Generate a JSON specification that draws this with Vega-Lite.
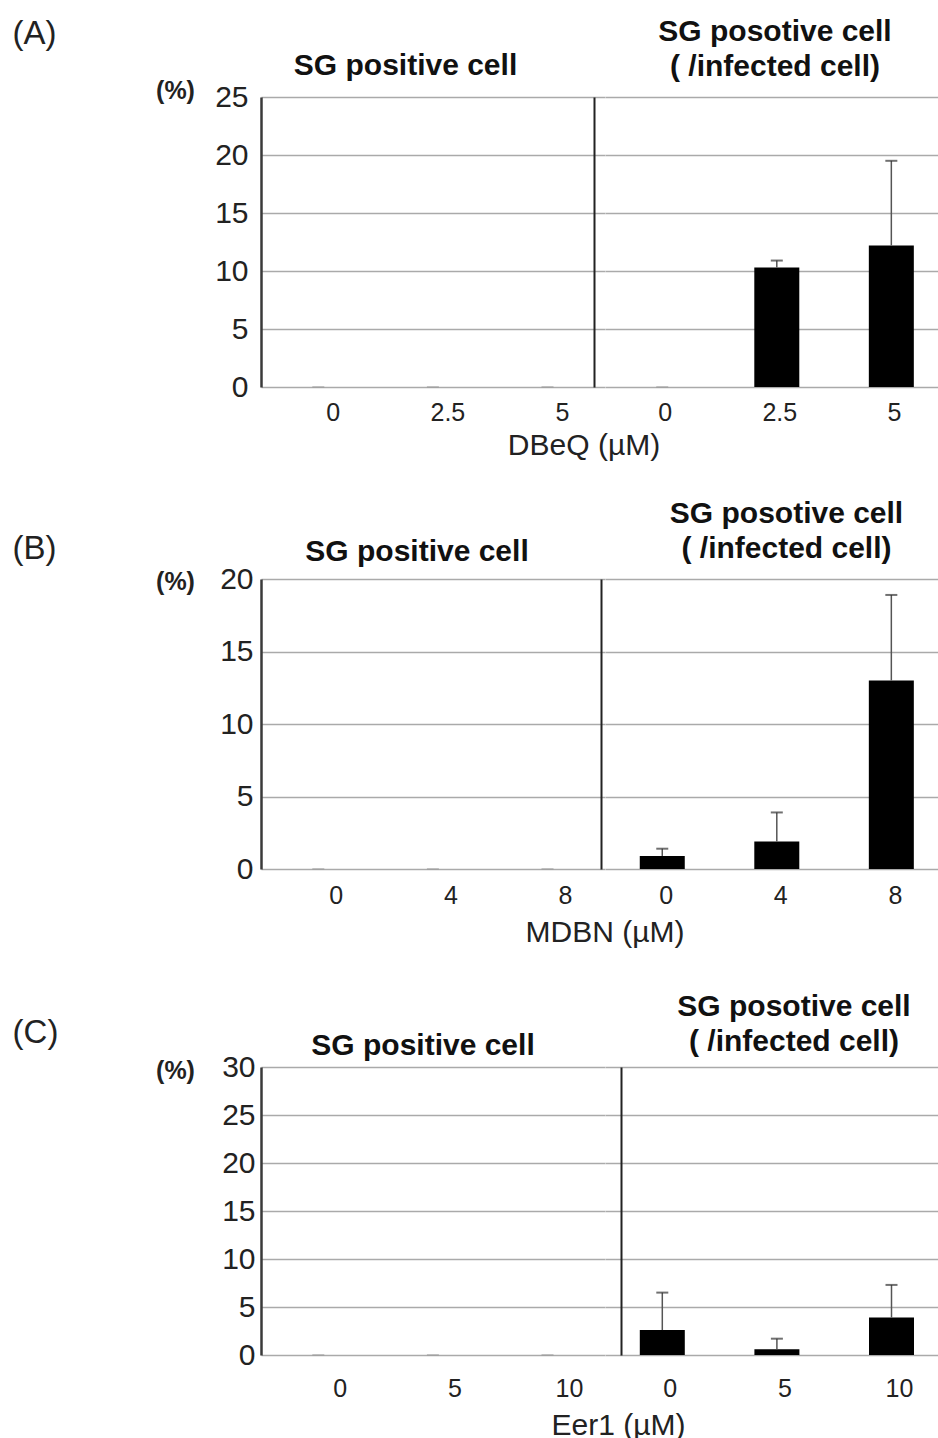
{
  "$schema": "https://vega.github.io/schema/vega-lite/v6.json",
  "padding": {"left": 12, "top": 17, "right": 0, "bottom": 0},
  "bounds": "flush",
  "spacing": 482,
  "config": {
    "font": "Liberation Sans",
    "view": {"stroke": null},
    "title": {"fontSize": 30, "fontWeight": "bold", "color": "#111", "anchor": "middle", "frame": "group", "baseline": "bottom", "lineHeight": 35}
  },
  "datasets": {
    "A": [
      {"group": "left", "dose": "0", "mean": 0, "hi": 0},
      {"group": "left", "dose": "2.5", "mean": 0, "hi": 0},
      {"group": "left", "dose": "5", "mean": 0, "hi": 0},
      {"group": "right", "dose": "0", "mean": 0, "hi": 0},
      {"group": "right", "dose": "2.5", "mean": 10.3, "hi": 10.9},
      {"group": "right", "dose": "5", "mean": 12.2, "hi": 19.5}
    ],
    "B": [
      {"group": "left", "dose": "0", "mean": 0, "hi": 0},
      {"group": "left", "dose": "4", "mean": 0, "hi": 0},
      {"group": "left", "dose": "8", "mean": 0, "hi": 0},
      {"group": "right", "dose": "0", "mean": 0.9, "hi": 1.4},
      {"group": "right", "dose": "4", "mean": 1.9, "hi": 3.9},
      {"group": "right", "dose": "8", "mean": 13.0, "hi": 18.9}
    ],
    "C": [
      {"group": "left", "dose": "0", "mean": 0, "hi": 0},
      {"group": "left", "dose": "5", "mean": 0, "hi": 0},
      {"group": "left", "dose": "10", "mean": 0, "hi": 0},
      {"group": "right", "dose": "0", "mean": 2.6, "hi": 6.5},
      {"group": "right", "dose": "5", "mean": 0.6, "hi": 1.7},
      {"group": "right", "dose": "10", "mean": 3.9, "hi": 7.3}
    ]
  },
  "vconcat": [
    {
      "title": {"text": "(A)", "anchor": "start", "frame": "bounds", "fontSize": 33, "fontWeight": "normal", "color": "#222", "dx": -143, "offset": -33.5},
      "bounds": "flush",
      "spacing": 0,
      "hconcat": [
        {
          "width": 333, "height": 290,
          "data": {"name": "A"},
          "transform": [{"filter": "datum.group == 'left'"}],
          "title": {"text": "SG positive cell", "dx": -22, "offset": -3},
          "encoding": {
            "x": {"field": "dose", "type": "nominal", "scale": {"domain": ["0", "2.5", "5"], "range": [0, 343.8], "paddingInner": 0, "paddingOuter": 0},
              "axis": {"title": null, "domain": false, "ticks": false, "labelFontSize": 25, "labelColor": "#222", "labelPadding": 13, "labelOffset": 15, "labelAngle": 0}},
            "y": {"field": "mean", "type": "quantitative", "scale": {"domain": [0, 25], "nice": false},
              "axis": {"values": [0, 5, 10, 15, 20, 25], "grid": true, "gridColor": "#aaaaaa", "gridWidth": 1.5, "domain": true, "domainColor": "#3a3a3a", "domainWidth": 2.5, "ticks": false, "labelFontSize": 30, "labelColor": "#222", "labelPadding": 13, "title": "(%)", "titleAngle": 0, "titleX": -86, "titleY": -7, "titleAlign": "center", "titleBaseline": "middle", "titleFontSize": 25, "titleFontWeight": "bold", "titleColor": "#222"}}
          },
          "layer": [
            {"transform": [{"filter": "datum.mean == 0"}], "mark": {"type": "tick", "size": 12, "thickness": 1.5, "color": "#999999"}},
            {"mark": {"type": "bar", "width": 45, "color": "#000000"}},
            {"transform": [{"filter": "datum.hi > datum.mean"}], "mark": {"type": "rule", "color": "#555555", "strokeWidth": 1.5}, "encoding": {"y2": {"field": "hi"}}},
            {"transform": [{"filter": "datum.hi > datum.mean"}], "mark": {"type": "tick", "size": 12, "thickness": 2, "color": "#333333"}, "encoding": {"y": {"field": "hi", "type": "quantitative"}}}
          ]
        },
        {
          "width": 344, "height": 290,
          "data": {"name": "A"},
          "transform": [{"filter": "datum.group == 'right'"}],
          "title": {"text": ["SG posotive cell", "( /infected cell)"], "dx": 9, "offset": 15},
          "encoding": {
            "x": {"field": "dose", "type": "nominal", "scale": {"domain": ["0", "2.5", "5"], "range": [11, 354.6], "paddingInner": 0, "paddingOuter": 0},
              "axis": {"title": "DBeQ (µM)", "titleX": -10.5, "titleY": 67, "titleAlign": "center", "titleBaseline": "alphabetic", "titleFontSize": 30, "titleFontWeight": "normal", "titleColor": "#222", "domain": false, "ticks": false, "labelFontSize": 25, "labelColor": "#222", "labelPadding": 13, "labelOffset": 3, "labelAngle": 0}},
            "y": {"field": "mean", "type": "quantitative", "scale": {"domain": [0, 25], "nice": false},
              "axis": {"values": [0, 5, 10, 15, 20, 25], "grid": true, "gridColor": "#aaaaaa", "gridWidth": 1.5, "domain": true, "domainColor": "#222222", "domainWidth": 2, "ticks": false, "labels": false, "title": null}}
          },
          "layer": [
            {"transform": [{"filter": "datum.mean == 0"}], "mark": {"type": "tick", "size": 12, "thickness": 1.5, "color": "#999999"}},
            {"mark": {"type": "bar", "width": 45, "color": "#000000"}},
            {"transform": [{"filter": "datum.hi > datum.mean"}], "mark": {"type": "rule", "color": "#555555", "strokeWidth": 1.5}, "encoding": {"y2": {"field": "hi"}}},
            {"transform": [{"filter": "datum.hi > datum.mean"}], "mark": {"type": "tick", "size": 12, "thickness": 2, "color": "#333333"}, "encoding": {"y": {"field": "hi", "type": "quantitative"}}}
          ]
        }
      ]
    },
    {
      "bounds": "flush",
      "spacing": 488,
      "vconcat": [
        {
          "title": {"text": "(B)", "anchor": "start", "frame": "bounds", "fontSize": 33, "fontWeight": "normal", "color": "#222", "dx": -143, "offset": -66.5},
          "bounds": "flush",
          "spacing": 0,
          "hconcat": [
            {
              "width": 340, "height": 290,
              "data": {"name": "B"},
              "transform": [{"filter": "datum.group == 'left'"}],
              "title": {"text": "SG positive cell", "dx": -14, "offset": -3},
              "encoding": {
                "x": {"field": "dose", "type": "nominal", "scale": {"domain": ["0", "4", "8"], "range": [0, 343.8], "paddingInner": 0, "paddingOuter": 0},
                  "axis": {"title": null, "domain": false, "ticks": false, "labelFontSize": 25, "labelColor": "#222", "labelPadding": 14, "labelOffset": 18, "labelAngle": 0}},
                "y": {"field": "mean", "type": "quantitative", "scale": {"domain": [0, 20], "nice": false},
                  "axis": {"values": [0, 5, 10, 15, 20], "grid": true, "gridColor": "#aaaaaa", "gridWidth": 1.5, "domain": true, "domainColor": "#3a3a3a", "domainWidth": 2.5, "ticks": false, "labelFontSize": 30, "labelColor": "#222", "labelPadding": 8, "title": "(%)", "titleAngle": 0, "titleX": -86, "titleY": 2, "titleAlign": "center", "titleBaseline": "middle", "titleFontSize": 25, "titleFontWeight": "bold", "titleColor": "#222"}}
              },
              "layer": [
                {"transform": [{"filter": "datum.mean == 0"}], "mark": {"type": "tick", "size": 12, "thickness": 1.5, "color": "#999999"}},
                {"mark": {"type": "bar", "width": 45, "color": "#000000"}},
                {"transform": [{"filter": "datum.hi > datum.mean"}], "mark": {"type": "rule", "color": "#555555", "strokeWidth": 1.5}, "encoding": {"y2": {"field": "hi"}}},
                {"transform": [{"filter": "datum.hi > datum.mean"}], "mark": {"type": "tick", "size": 12, "thickness": 2, "color": "#333333"}, "encoding": {"y": {"field": "hi", "type": "quantitative"}}}
              ]
            },
            {
              "width": 337, "height": 290,
              "data": {"name": "B"},
              "transform": [{"filter": "datum.group == 'right'"}],
              "title": {"text": ["SG posotive cell", "( /infected cell)"], "dx": 17, "offset": 15},
              "encoding": {
                "x": {"field": "dose", "type": "nominal", "scale": {"domain": ["0", "4", "8"], "range": [4, 347.6], "paddingInner": 0, "paddingOuter": 0},
                  "axis": {"title": "MDBN (µM)", "titleX": 3.5, "titleY": 72, "titleAlign": "center", "titleBaseline": "alphabetic", "titleFontSize": 30, "titleFontWeight": "normal", "titleColor": "#222", "domain": false, "ticks": false, "labelFontSize": 25, "labelColor": "#222", "labelPadding": 14, "labelOffset": 4, "labelAngle": 0}},
                "y": {"field": "mean", "type": "quantitative", "scale": {"domain": [0, 20], "nice": false},
                  "axis": {"values": [0, 5, 10, 15, 20], "grid": true, "gridColor": "#aaaaaa", "gridWidth": 1.5, "domain": true, "domainColor": "#222222", "domainWidth": 2, "ticks": false, "labels": false, "title": null}}
              },
              "layer": [
                {"transform": [{"filter": "datum.mean == 0"}], "mark": {"type": "tick", "size": 12, "thickness": 1.5, "color": "#999999"}},
                {"mark": {"type": "bar", "width": 45, "color": "#000000"}},
                {"transform": [{"filter": "datum.hi > datum.mean"}], "mark": {"type": "rule", "color": "#555555", "strokeWidth": 1.5}, "encoding": {"y2": {"field": "hi"}}},
                {"transform": [{"filter": "datum.hi > datum.mean"}], "mark": {"type": "tick", "size": 12, "thickness": 2, "color": "#333333"}, "encoding": {"y": {"field": "hi", "type": "quantitative"}}}
              ]
            }
          ]
        },
        {
          "title": {"text": "(C)", "anchor": "start", "frame": "bounds", "fontSize": 33, "fontWeight": "normal", "color": "#222", "dx": -143, "offset": -57.5},
          "bounds": "flush",
          "spacing": 0,
          "hconcat": [
            {
              "width": 360, "height": 288,
              "data": {"name": "C"},
              "transform": [{"filter": "datum.group == 'left'"}],
              "title": {"text": "SG positive cell", "dx": -18, "offset": -9},
              "encoding": {
                "x": {"field": "dose", "type": "nominal", "scale": {"domain": ["0", "5", "10"], "range": [0, 343.8], "paddingInner": 0, "paddingOuter": 0},
                  "axis": {"title": null, "domain": false, "ticks": false, "labelFontSize": 25, "labelColor": "#222", "labelPadding": 21, "labelOffset": 22, "labelAngle": 0}},
                "y": {"field": "mean", "type": "quantitative", "scale": {"domain": [0, 30], "nice": false},
                  "axis": {"values": [0, 5, 10, 15, 20, 25, 30], "grid": true, "gridColor": "#aaaaaa", "gridWidth": 1.5, "domain": true, "domainColor": "#3a3a3a", "domainWidth": 2.5, "ticks": false, "labelFontSize": 30, "labelColor": "#222", "labelPadding": 6, "title": "(%)", "titleAngle": 0, "titleX": -86, "titleY": 3, "titleAlign": "center", "titleBaseline": "middle", "titleFontSize": 25, "titleFontWeight": "bold", "titleColor": "#222"}}
              },
              "layer": [
                {"transform": [{"filter": "datum.mean == 0"}], "mark": {"type": "tick", "size": 12, "thickness": 1.5, "color": "#999999"}},
                {"mark": {"type": "bar", "width": 45, "color": "#000000"}},
                {"transform": [{"filter": "datum.hi > datum.mean"}], "mark": {"type": "rule", "color": "#555555", "strokeWidth": 1.5}, "encoding": {"y2": {"field": "hi"}}},
                {"transform": [{"filter": "datum.hi > datum.mean"}], "mark": {"type": "tick", "size": 12, "thickness": 2, "color": "#333333"}, "encoding": {"y": {"field": "hi", "type": "quantitative"}}}
              ]
            },
            {
              "width": 317, "height": 288,
              "data": {"name": "C"},
              "transform": [{"filter": "datum.group == 'right'"}],
              "title": {"text": ["SG posotive cell", "( /infected cell)"], "dx": 14.5, "offset": 10},
              "encoding": {
                "x": {"field": "dose", "type": "nominal", "scale": {"domain": ["0", "5", "10"], "range": [-16, 327.8], "paddingInner": 0, "paddingOuter": 0},
                  "axis": {"title": "Eer1 (µM)", "titleX": -3, "titleY": 79, "titleAlign": "center", "titleBaseline": "alphabetic", "titleFontSize": 30, "titleFontWeight": "normal", "titleColor": "#222", "domain": false, "ticks": false, "labelFontSize": 25, "labelColor": "#222", "labelPadding": 21, "labelOffset": 8, "labelAngle": 0}},
                "y": {"field": "mean", "type": "quantitative", "scale": {"domain": [0, 30], "nice": false},
                  "axis": {"values": [0, 5, 10, 15, 20, 25, 30], "grid": true, "gridColor": "#aaaaaa", "gridWidth": 1.5, "domain": true, "domainColor": "#222222", "domainWidth": 2, "ticks": false, "labels": false, "title": null}}
              },
              "layer": [
                {"transform": [{"filter": "datum.mean == 0"}], "mark": {"type": "tick", "size": 12, "thickness": 1.5, "color": "#999999"}},
                {"mark": {"type": "bar", "width": 45, "color": "#000000"}},
                {"transform": [{"filter": "datum.hi > datum.mean"}], "mark": {"type": "rule", "color": "#555555", "strokeWidth": 1.5}, "encoding": {"y2": {"field": "hi"}}},
                {"transform": [{"filter": "datum.hi > datum.mean"}], "mark": {"type": "tick", "size": 12, "thickness": 2, "color": "#333333"}, "encoding": {"y": {"field": "hi", "type": "quantitative"}}}
              ]
            }
          ]
        }
      ]
    }
  ]
}
